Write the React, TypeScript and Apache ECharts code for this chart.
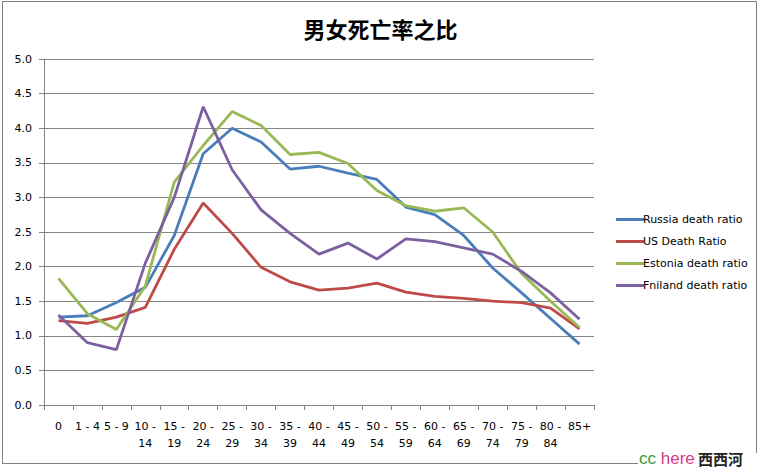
import React, { useEffect, useRef } from "react";
import * as echarts from "echarts";

const title = "男女死亡率之比";
const categories = ["0", "1 - 4", "5 - 9", "10 - 14", "15 - 19", "20 - 24", "25 - 29", "30 - 34", "35 - 39", "40 - 44", "45 - 49", "50 - 54", "55 - 59", "60 - 64", "65 - 69", "70 - 74", "75 - 79", "80 - 84", "85+"];
const russia = [1.27, 1.29, 1.48, 1.70, 2.45, 3.63, 4.00, 3.80, 3.41, 3.45, 3.35, 3.26, 2.86, 2.75, 2.45, 1.98, 1.62, 1.25, 0.88];
const us = [1.22, 1.18, 1.27, 1.41, 2.25, 2.92, 2.48, 1.99, 1.78, 1.66, 1.69, 1.76, 1.63, 1.57, 1.54, 1.50, 1.48, 1.40, 1.10];
const estonia = [1.83, 1.32, 1.09, 1.72, 3.22, 3.75, 4.24, 4.04, 3.62, 3.65, 3.49, 3.10, 2.88, 2.80, 2.85, 2.50, 1.90, 1.50, 1.12];
const finland = [1.30, 0.90, 0.80, 2.05, 3.00, 4.31, 3.40, 2.82, 2.48, 2.18, 2.34, 2.11, 2.40, 2.36, 2.27, 2.18, 1.93, 1.62, 1.24];
const seriesNames = ["Russia death ratio", "US Death Ratio", "Estonia death ratio", "Fniland death ratio"];
const colors = ["#4A7EBB", "#BE4B48", "#98B954", "#7D60A0"];

export default function App() {
  const ref = useRef<HTMLDivElement>(null);
  useEffect(() => {
    const chart = echarts.init(ref.current!, undefined, { renderer: "svg" });
    const font = "DejaVu Sans";
    const data = [russia, us, estonia, finland];
    chart.setOption({
      animation: false,
      backgroundColor: "#fff",
      title: {
        text: title,
        left: "center",
        top: 12,
        textStyle: { fontFamily: "Noto Sans CJK SC", fontSize: 22, fontWeight: "bold", color: "#000" },
      },
      grid: { left: 44, right: 167, top: 59, bottom: 67 },
      legend: {
        orient: "vertical",
        left: 611,
        top: 209,
        itemWidth: 28,
        itemHeight: 3,
        itemGap: 11,
        icon: "rect",
        data: seriesNames,
        textStyle: { fontFamily: font, fontSize: 11, color: "#000", padding: [0, 0, 0, -6] },
      },
      xAxis: {
        type: "category",
        data: categories,
        boundaryGap: true,
        axisLine: { lineStyle: { color: "#868686", width: 1 } },
        axisTick: { show: true, length: 5, interval: 0, lineStyle: { color: "#868686" } },
        axisLabel: {
          interval: 0,
          margin: 13,
          fontFamily: font,
          fontSize: 11,
          color: "#000",
          lineHeight: 17,
          formatter: (v: string) => (v.length > 5 ? v.replace(" - ", " -\n") : v),
        },
      },
      yAxis: {
        type: "value",
        min: 0,
        max: 5,
        interval: 0.5,
        axisLine: { show: true, lineStyle: { color: "#868686" } },
        axisTick: { show: true, length: 5, lineStyle: { color: "#868686" } },
        splitLine: { lineStyle: { color: "#868686", width: 1 } },
        axisLabel: {
          margin: 12,
          fontFamily: font,
          fontSize: 11,
          color: "#000",
          formatter: (v: number) => v.toFixed(1),
        },
      },
      series: data.map((d, i) => ({
        name: seriesNames[i],
        type: "line",
        data: d,
        symbol: "none",
        lineStyle: { width: 2.8, color: colors[i] },
        itemStyle: { color: colors[i] },
        z: 2 + i,
      })),
      graphic: [
        {
          type: "text",
          z: 102,
          x: 639,
          y: 458,
          style: {
            rich: {
              a: { fontFamily: "Liberation Sans", fontSize: 17, fill: "#3a9a3a" },
              b: { fontFamily: "Liberation Sans", fontSize: 17, fill: "#d63a8a" },
              c: { fontFamily: "Noto Sans CJK SC", fontSize: 15, fontWeight: "bold", fill: "#222" },
            },
            text: "{a|cc}{b| here} {c|西西河}",
            verticalAlign: "middle",
          },
          silent: true,
        },
      ],
    });
    return () => chart.dispose();
  }, []);
  const line = "1px solid #808080";
  return (
    <div style={{ position: "fixed", left: 0, top: 0, width: 761, height: 472 }}>
      <div ref={ref} style={{ position: "absolute", left: 0, top: 0, width: 761, height: 472 }} />
      <div style={{ position: "absolute", left: 2, top: 1, width: 755, height: 463, boxSizing: "border-box", borderTop: line, borderLeft: line, pointerEvents: "none" }} />
      <div style={{ position: "absolute", left: 756, top: 1, width: 0, height: 452, borderLeft: line, pointerEvents: "none" }} />
      <div style={{ position: "absolute", left: 2, top: 463, width: 636, height: 0, borderTop: line, pointerEvents: "none" }} />
    </div>
  );
}
